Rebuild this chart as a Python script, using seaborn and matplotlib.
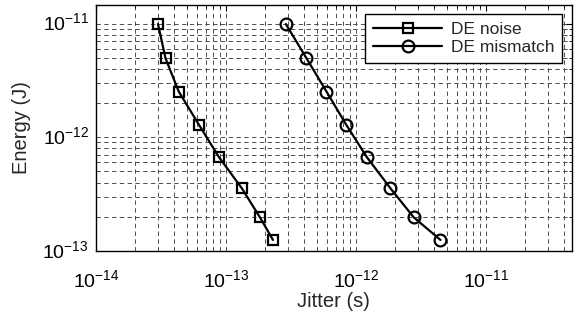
import matplotlib
matplotlib.use("Agg")
import matplotlib.pyplot as plt
import matplotlib.ticker as mticker
import matplotlib.transforms as mtransforms
import seaborn as sns
import pandas as pd

# values (log-log)
noise_jitter = [3.01e-14, 3.44e-14, 4.35e-14, 6.24e-14, 8.88e-14, 1.33e-13, 1.83e-13, 2.31e-13]
mismatch_jitter = [2.90e-13, 4.18e-13, 5.96e-13, 8.48e-13, 1.22e-12, 1.85e-12, 2.79e-12, 4.49e-12]
energy = [9.9e-12, 4.95e-12, 2.52e-12, 1.28e-12, 6.67e-13, 3.56e-13, 1.98e-13, 1.25e-13]
series_names = ["DE noise", "DE mismatch"]
x_major = [1e-14, 1e-13, 1e-12, 1e-11]
y_major = [1e-13, 1e-12, 1e-11]

df_noise = pd.DataFrame({"Jitter": noise_jitter, "Energy": energy})
df_mis = pd.DataFrame({"Jitter": mismatch_jitter, "Energy": energy})

sns.set_theme(style="white")
plt.rcParams["font.family"] = ["Liberation Sans", "DejaVu Sans"]
plt.rcParams["mathtext.fontset"] = "custom"
plt.rcParams["mathtext.rm"] = "Liberation Sans"
plt.rcParams["mathtext.it"] = "Liberation Sans:italic"
plt.rcParams["mathtext.bf"] = "Liberation Sans:bold"

fig = plt.figure(figsize=(5.77, 3.23), dpi=100)
ax = fig.add_axes([0.166, 0.223, 0.825, 0.762])
ax.set_xscale("log")
ax.set_yscale("log")

line_kw = dict(color="black", linewidth=1.6, markerfacecolor="none",
               markeredgecolor="black", markeredgewidth=1.6)
sns.lineplot(data=df_noise, x="Jitter", y="Energy", marker="s", markersize=6.5,
             label=series_names[0], ax=ax, **line_kw)
sns.lineplot(data=df_mis, x="Jitter", y="Energy", marker="o", markersize=8.5,
             label=series_names[1], ax=ax, **line_kw)

ax.set_xlim(1e-14, 4.6e-11)
ax.set_ylim(1e-13, 1.46e-11)

ax.xaxis.set_major_locator(mticker.FixedLocator(x_major))
ax.yaxis.set_major_locator(mticker.FixedLocator(y_major))
ax.xaxis.set_minor_locator(mticker.LogLocator(base=10, subs=range(2, 10), numticks=20))
ax.yaxis.set_minor_locator(mticker.LogLocator(base=10, subs=range(2, 10), numticks=20))
ax.xaxis.set_major_formatter(mticker.LogFormatterSciNotation())
ax.yaxis.set_major_formatter(mticker.LogFormatterSciNotation())
ax.xaxis.set_minor_formatter(mticker.NullFormatter())
ax.yaxis.set_minor_formatter(mticker.NullFormatter())

ax.grid(True, which="both", color="0.3", linewidth=0.7, linestyle=(0, (4.5, 3.5)))
ax.set_axisbelow(True)

ax.tick_params(which="both", direction="in", top=True, right=True, colors="black",
               labelsize=14)
ax.tick_params(which="major", length=4, width=0.8)
ax.tick_params(which="minor", length=2.5, width=0.6)
ax.tick_params(axis="x", which="major", pad=13)
ax.tick_params(axis="y", which="major", pad=5)

# matlab-like: the "10" sits on the tick, exponent rides above it
shift = mtransforms.ScaledTranslation(0, -5 / 72, fig.dpi_scale_trans)
for lbl in ax.get_yticklabels():
    lbl.set_verticalalignment("baseline")
    lbl.set_transform(lbl.get_transform() + shift)

for s in ax.spines.values():
    s.set_color("black")
    s.set_linewidth(1.0)

ax.set_xlabel("Jitter (s)", fontsize=14.5, labelpad=1)
ax.set_ylabel("Energy (J)", fontsize=14.5, labelpad=8)

leg = ax.legend(loc="upper right", fontsize=12.5, handlelength=4.0, handletextpad=0.5,
                borderaxespad=0.55, fancybox=False, framealpha=1, borderpad=0.45,
                labelspacing=0.15)
leg.get_frame().set_edgecolor("black")
leg.get_frame().set_linewidth(1.0)

fig.savefig("out.png", dpi=100)
